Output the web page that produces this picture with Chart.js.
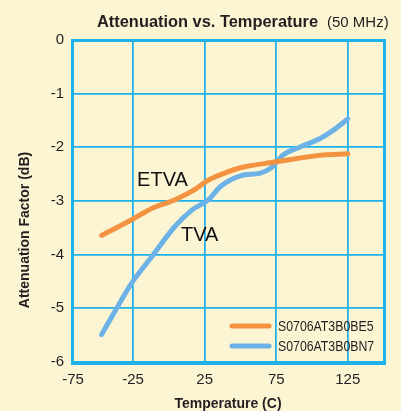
<!DOCTYPE html>
<html>
<head>
<meta charset="utf-8">
<script src="https://cdn.jsdelivr.net/npm/chart.js@4.4.1/dist/chart.umd.min.js"></script>
<style>
  html, body { margin: 0; padding: 0; background: #fcf5d4; }
  #attnChart { display: block; }
</style>
</head>
<body>
<canvas id="attnChart" width="401" height="411"></canvas>
<script>
        // Temperature (C) vs attenuation factor (dB), read per curve
        const etvaTemps = [-47, -26, -12, 4, 18, 27, 38, 50, 75, 105, 125];
        const etvaAtten = [-3.64, -3.35, -3.14, -2.98, -2.79, -2.62, -2.49, -2.38, -2.27, -2.15, -2.12];

        const tvaTemps = [-47, -38, -26, -12, 4, 16, 27.5, 36, 50, 64, 71, 80, 92, 106, 115, 125];
        const tvaAtten = [-5.49, -5.07, -4.53, -4.04, -3.48, -3.17, -2.98, -2.73, -2.53, -2.48, -2.39, -2.14, -1.99, -1.83, -1.68, -1.47];

        const seriesNames = ['S0706AT3B0BE5', 'S0706AT3B0BN7'];
        const curveNames = ['ETVA', 'TVA'];

        // x axis: first tick sits on the left edge but reads -75
        const xTickValues = [-67, -25, 25, 75, 125];
        const xTickLabels = ['-75', '-25', '25', '75', '125'];

        const ORANGE = '#f39240';
        const BLUE = '#6cb2e6';
        const GRID = '#1db2ec';
        const INK = '#231f20';
        const SANS = '"Liberation Sans", Arial, sans-serif';

        function toPoints(xs, ys) {
            return xs.map((x, i) => ({ x: x, y: ys[i] }));
        }

        // text squeezed sideways, no narrow face is installed
        function narrowText(ctx, text, x, y, squeeze) {
            ctx.save();
            ctx.translate(x, y);
            ctx.scale(squeeze, 1);
            ctx.fillText(text, 0, 0);
            ctx.restore();
        }

        const frameAndText = {
            id: 'frameAndText',
            beforeDatasetsDraw(chart) {
                const ctx = chart.ctx;
                const a = chart.chartArea;
                ctx.save();
                ctx.strokeStyle = GRID;
                ctx.lineWidth = 3;
                ctx.strokeRect(a.left - 0.5, a.top + 0.5, a.right - a.left, a.bottom - a.top + 1);
                ctx.restore();
            },
            afterDraw(chart) {
                const ctx = chart.ctx;
                const xs = chart.scales.x;
                const ys = chart.scales.y;
                ctx.save();
                ctx.fillStyle = INK;

                // title
                ctx.textBaseline = 'alphabetic';
                ctx.textAlign = 'left';
                ctx.font = 'bold 16.4px ' + SANS;
                ctx.fillText('Attenuation vs. Temperature', 97, 27);
                ctx.font = '15px ' + SANS;
                ctx.fillText('(50 MHz)', 327, 27);

                // axis titles
                ctx.font = 'bold 14px ' + SANS;
                ctx.textAlign = 'center';
                ctx.textBaseline = 'middle';
                ctx.fillText('Temperature (C)', 228, 404);
                ctx.save();
                ctx.translate(25, 230);
                ctx.rotate(-Math.PI / 2);
                ctx.fillText('Attenuation Factor (dB)', 0, 0);
                ctx.restore();

                // curve names
                ctx.font = '20px ' + SANS;
                ctx.fillStyle = '#111';
                ctx.fillText(curveNames[0], xs.getPixelForValue(-4.5), ys.getPixelForValue(-2.62));
                ctx.fillText(curveNames[1], xs.getPixelForValue(21.5), ys.getPixelForValue(-3.65));

                // legend, inside lower right of the plot
                ctx.textAlign = 'left';
                ctx.font = '15px ' + SANS;
                chart.data.datasets.forEach((ds, i) => {
                    const y = 326 + i * 20;
                    ctx.strokeStyle = ds.borderColor;
                    ctx.lineWidth = 5;
                    ctx.lineCap = 'round';
                    ctx.beginPath();
                    ctx.moveTo(232, y);
                    ctx.lineTo(269, y);
                    ctx.stroke();
                    ctx.fillStyle = INK;
                    narrowText(ctx, ds.label, 278, y + 1, 0.82);
                });
                ctx.restore();
            }
        };

        const chart = new Chart(document.getElementById('attnChart'), {
            type: 'line',
            data: {
                datasets: [{
                    label: seriesNames[0],
                    data: toPoints(etvaTemps, etvaAtten),
                    borderColor: ORANGE,
                    borderWidth: 5,
                    borderCapStyle: 'round',
                    pointRadius: 0,
                    cubicInterpolationMode: 'monotone',
                    fill: false
                }, {
                    label: seriesNames[1],
                    data: toPoints(tvaTemps, tvaAtten),
                    borderColor: BLUE,
                    borderWidth: 5,
                    borderCapStyle: 'round',
                    pointRadius: 0,
                    cubicInterpolationMode: 'monotone',
                    fill: false
                }]
            },
            options: {
                responsive: false,
                animation: false,
                layout: { padding: { left: 0, top: 40, right: 16, bottom: 0 } },
                plugins: {
                    legend: { display: false },
                    title: { display: false },
                    tooltip: { enabled: false }
                },
                scales: {
                    x: {
                        type: 'linear',
                        min: -67,
                        max: 151,
                        afterBuildTicks: (scale) => {
                            scale.ticks = xTickValues.map(v => ({ value: v }));
                        },
                        afterFit: (scale) => { scale.height = 49; },
                        ticks: {
                            padding: 9,
                            color: INK,
                            font: { family: SANS, size: 15 },
                            maxRotation: 0,
                            callback: (v, i) => xTickLabels[i]
                        },
                        grid: { color: GRID, lineWidth: 1.8, drawTicks: false },
                        border: { display: false }
                    },
                    y: {
                        min: -6,
                        max: 0,
                        afterFit: (scale) => { scale.width = 73; },
                        ticks: {
                            stepSize: 1,
                            padding: 9,
                            color: INK,
                            font: { family: SANS, size: 15 }
                        },
                        grid: { color: GRID, lineWidth: 1.8, drawTicks: false },
                        border: { display: false }
                    }
                }
            },
            plugins: [frameAndText]
        });
</script>
</body>
</html>
